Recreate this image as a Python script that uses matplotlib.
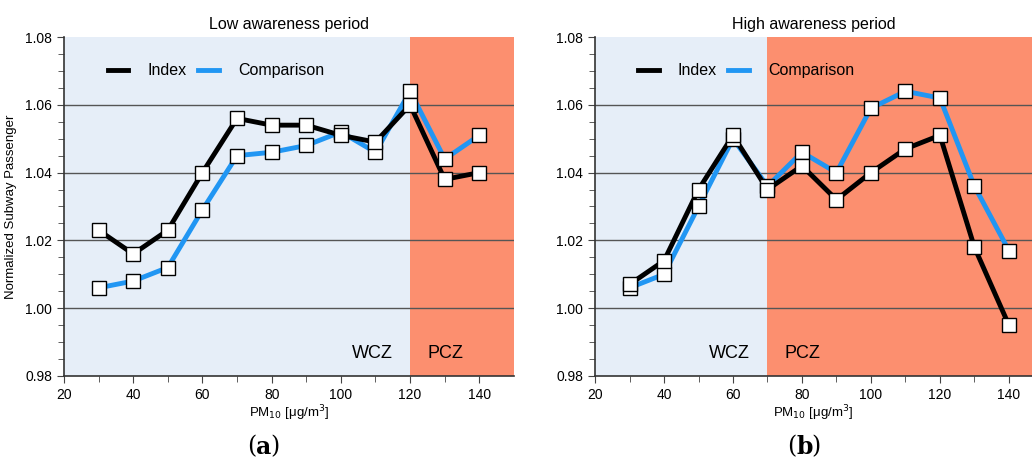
import numpy as np
import matplotlib.pyplot as plt

plt.rcParams['font.family'] = ['Liberation Sans', 'DejaVu Sans']

pm10 = [30, 40, 50, 60, 70, 80, 90, 100, 110, 120, 130, 140]

# Low awareness period
low_index = [1.023, 1.016, 1.023, 1.040, 1.056, 1.054, 1.054, 1.051, 1.049, 1.060, 1.038, 1.040]
low_comp = [1.006, 1.008, 1.012, 1.029, 1.045, 1.046, 1.048, 1.052, 1.046, 1.064, 1.044, 1.051]

# High awareness period
high_index = [1.007, 1.014, 1.035, 1.051, 1.035, 1.042, 1.032, 1.040, 1.047, 1.051, 1.018, 0.995]
high_comp = [1.006, 1.010, 1.030, 1.050, 1.036, 1.046, 1.040, 1.059, 1.064, 1.062, 1.036, 1.017]

titles = ['Low awareness period', 'High awareness period']
thresholds = [120, 70]

bg_blue = '#e6eef8'
bg_red = '#fc8f6f'
comp_color = '#2196f3'

fig = plt.figure(figsize=(10.32, 4.63), dpi=100)
ax1 = fig.add_axes([0.062, 0.188, 0.436, 0.732])
ax2 = fig.add_axes([0.5766, 0.188, 0.4234, 0.732])

panels = [(ax1, low_index, low_comp, 150), (ax2, high_index, high_comp, 146.7)]

for i, (ax, idx, comp, xmax) in enumerate(panels):
    thr = thresholds[i]
    ax.set_xlim(20, xmax)
    ax.set_ylim(0.98, 1.08)
    ax.axvspan(20, thr, color=bg_blue, zorder=0, lw=0)
    ax.axvspan(thr, 160, color=bg_red, zorder=0, lw=0)
    for yv in [1.00, 1.02, 1.04, 1.06]:
        ax.axhline(yv, color='#555555', lw=1.0, zorder=1)

    ax.plot(pm10, idx, color='black', lw=3.5, zorder=3, label='Index')
    ax.plot(pm10, comp, color=comp_color, lw=3.5, zorder=2, label='Comparison')
    ax.plot(pm10, comp, ls='none', marker='s', ms=10, mfc='white', mec='black', mew=1.0, zorder=4)
    ax.plot(pm10, idx, ls='none', marker='s', ms=10, mfc='white', mec='black', mew=1.0, zorder=4)

    ax.set_xticks(np.arange(20, 150, 20))
    ax.set_xticks(np.arange(30, 150, 20), minor=True)
    ax.set_yticks([0.98, 1.00, 1.02, 1.04, 1.06, 1.08])
    ax.set_yticks(np.arange(0.985, 1.08, 0.005), minor=True)
    ax.yaxis.set_major_formatter(plt.FuncFormatter(lambda v, p: f'{v:.2f}'))
    ax.tick_params(axis='both', which='major', labelsize=10, length=5, color='#444444')
    ax.tick_params(axis='both', which='minor', length=4, color='#444444')

    for s in ['top', 'right']:
        ax.spines[s].set_visible(False)
    for s in ['left', 'bottom']:
        ax.spines[s].set_color('#333333')
        ax.spines[s].set_linewidth(1.2)

    ax.set_title(titles[i], fontsize=11.5, pad=6)
    ax.set_xlabel('PM$_{10}$ [μg/m$^3$]', fontsize=9.5, labelpad=1)
    ax.text(thr - 5, 0.9865, 'WCZ', ha='right', va='center', fontsize=13)
    ax.text(thr + 5, 0.9865, 'PCZ', ha='left', va='center', fontsize=13)
    ax.legend(loc='upper left', bbox_to_anchor=(0.065, 0.965), ncol=2, frameon=False,
              fontsize=11.5, handlelength=1.3, columnspacing=0.7, handletextpad=1.2)

ax1.set_ylabel('Normalized Subway Passenger', fontsize=9.5, labelpad=6)

fig.text(0.248, 0.035, '(', fontsize=17, family='DejaVu Serif', ha='right', va='center')
fig.text(0.248, 0.035, 'a', fontsize=17, family='DejaVu Serif', weight='bold', ha='left', va='center')
fig.text(0.2615, 0.035, ')', fontsize=17, family='DejaVu Serif', ha='left', va='center')
fig.text(0.772, 0.035, '(', fontsize=17, family='DejaVu Serif', ha='right', va='center')
fig.text(0.772, 0.035, 'b', fontsize=17, family='DejaVu Serif', weight='bold', ha='left', va='center')
fig.text(0.7865, 0.035, ')', fontsize=17, family='DejaVu Serif', ha='left', va='center')

fig.savefig('out.png', dpi=100)
